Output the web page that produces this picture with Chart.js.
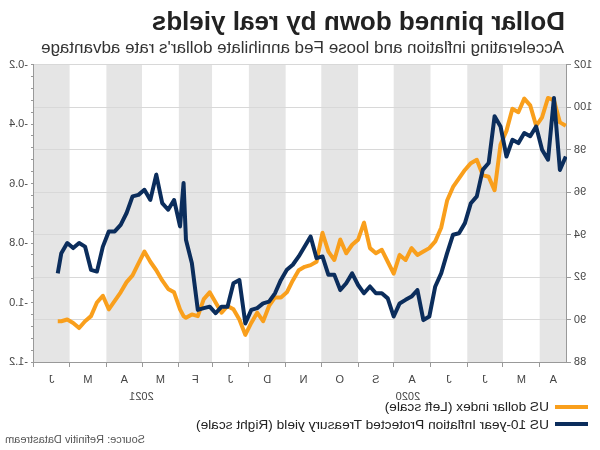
<!DOCTYPE html>
<html>
<head>
<meta charset="utf-8">
<script src="https://cdn.jsdelivr.net/npm/chart.js@4.4.0/dist/chart.umd.min.js"></script>
<style>
  html, body { margin: 0; padding: 0; background: #fff; }
  /* the reference is a mirror image, so the whole page is flipped */
  #page { position: relative; width: 600px; height: 450px; overflow: hidden; transform: scaleX(-1);
          font-family: 'Liberation Sans', Arial, sans-serif; }
  .title { position: absolute; left: 35px; top: 6px; font-size: 26px; font-weight: bold; color: #222; white-space: nowrap; }
  .subtitle { position: absolute; left: 36px; top: 38px; font-size: 17px; color: #333; white-space: nowrap; }
  .chart-box { position: absolute; left: 0; top: 55px; width: 600px; height: 350px; }
  .legend { position: absolute; left: 12px; top: 398px; font-size: 13.7px; color: #222; line-height: 17.5px; }
  .row { display: flex; align-items: center; white-space: nowrap; }
  .swatch { display: inline-block; width: 33px; height: 4px; margin-right: 6px; }
  .source { position: absolute; right: 5px; top: 433px; font-size: 11px; color: #555; }
</style>
</head>
<body>
<div id="page">
  <div class="title">Dollar pinned down by real yields</div>
  <div class="subtitle">Accelerating inflation and loose Fed annihilate dollar's rate advantage</div>
  <div class="chart-box"><canvas id="chart" width="600" height="350"></canvas></div>
  <div class="legend">
    <div class="row"><span class="swatch" style="background:#f99f1c"></span>US dollar index (Left scale)</div>
    <div class="row"><span class="swatch" style="background:#0b2d5c"></span>US 10-year Inflation Protected Treasury yield (Right scale)</div>
  </div>
  <div class="source">Source: Refinitiv Datastream</div>
</div>
<script>
const dates = [
  '2020-04-09','2020-04-14','2020-04-19','2020-04-24','2020-04-29','2020-05-04','2020-05-09','2020-05-14',
  '2020-05-19','2020-05-24','2020-05-29','2020-06-03','2020-06-08','2020-06-13','2020-06-18','2020-06-23',
  '2020-06-28','2020-07-03','2020-07-08','2020-07-13','2020-07-18','2020-07-23','2020-07-28','2020-08-02',
  '2020-08-07','2020-08-12','2020-08-17','2020-08-22','2020-08-27','2020-09-01','2020-09-06','2020-09-11',
  '2020-09-16','2020-09-21','2020-09-26','2020-10-01','2020-10-06','2020-10-11','2020-10-16','2020-10-21',
  '2020-10-26','2020-10-31','2020-11-05','2020-11-10','2020-11-15','2020-11-20','2020-11-25','2020-11-30',
  '2020-12-05','2020-12-10','2020-12-15','2020-12-20','2020-12-25','2020-12-30','2021-01-04','2021-01-09',
  '2021-01-14','2021-01-19','2021-01-24','2021-01-29','2021-02-03','2021-02-08','2021-02-13','2021-02-18',
  '2021-02-23','2021-02-25','2021-02-28','2021-03-05','2021-03-10','2021-03-15','2021-03-20','2021-03-25',
  '2021-03-30','2021-04-04','2021-04-09','2021-04-14','2021-04-19','2021-04-24','2021-04-29','2021-05-04',
  '2021-05-09','2021-05-14','2021-05-19','2021-05-24','2021-05-29','2021-06-03','2021-06-08','2021-06-11'
];

// US dollar index (left scale)
const dollarIndex = [
  99.12, 99.28, 100.32, 100.43, 99.52, 99.12, 100.08, 100.40,
  99.76, 99.92, 98.88, 98.24, 96.08, 96.72, 96.80, 97.52,
  97.36, 97.04, 96.64, 96.24, 95.60, 94.32, 93.68, 93.36,
  93.20, 93.04, 93.36, 92.80, 93.04, 92.16, 92.72, 93.28,
  93.12, 93.36, 94.56, 93.76, 93.52, 93.12, 93.76, 92.80,
  93.20, 94.08, 92.72, 92.56, 92.48, 92.32, 91.84, 91.28,
  91.04, 91.04, 90.64, 89.92, 90.32, 89.84, 89.28, 90.00,
  90.48, 90.64, 90.32, 90.80, 91.28, 90.96, 90.16, 90.24,
  90.08, 90.16, 90.48, 91.28, 91.44, 91.84, 92.32, 92.72,
  93.20, 92.64, 92.08, 91.76, 91.28, 90.88, 90.48, 91.12,
  90.80, 90.16, 89.92, 89.60, 89.84, 90.00, 89.92, 89.92
];

// US 10-year TIPS yield (right scale)
const realYield = [
  -0.509, -0.554, -0.312, -0.520, -0.486, -0.408, -0.441, -0.430,
  -0.464, -0.453, -0.509, -0.408, -0.374, -0.531, -0.554, -0.643,
  -0.666, -0.733, -0.767, -0.772, -0.834, -0.902, -0.946, -1.047,
  -1.059, -0.958, -0.980, -0.991, -1.003, -1.047, -0.986, -0.969,
  -0.969, -0.946, -0.969, -0.941, -0.902, -0.935, -0.958, -0.907,
  -0.907, -0.845, -0.851, -0.778, -0.812, -0.845, -0.873, -0.890,
  -0.924, -0.969, -0.997, -1.003, -1.019, -1.025, -1.070, -0.924,
  -0.935, -1.014, -1.014, -1.036, -1.014, -1.019, -1.025, -0.868,
  -0.789, -0.598, -0.744, -0.655, -0.688, -0.666, -0.570, -0.655,
  -0.621, -0.638, -0.643, -0.699, -0.739, -0.761, -0.761, -0.812,
  -0.896, -0.890, -0.812, -0.800, -0.817, -0.800, -0.834, -0.902
];

const monthLabels = ['A','M','J','J','A','S','O','N','D','J','F','M','A','M','J'];
const monthEdges = ['2020-04-08','2020-05-01','2020-06-01','2020-07-01','2020-08-01','2020-09-01','2020-10-01',
  '2020-11-01','2020-12-01','2021-01-01','2021-02-01','2021-03-01','2021-04-01','2021-05-01','2021-06-01','2021-07-01'];
const yearLabels = ['2020','2021'];
const yearEdges = ['2020-04-08','2021-01-01','2021-07-01'];

const START = Date.parse('2020-04-08');
const dayOf = s => (Date.parse(s) - START) / 86400000;
const END = dayOf('2021-07-01');

const AXIS = '#999';
const FONT = { family: "'Liberation Sans', Arial, sans-serif", size: 11 };

const monthBands = {
  id: 'monthBands',
  beforeDraw(chart) {
    const { ctx, chartArea: a } = chart;
    const x = chart.scales.x;
    ctx.save();
    ctx.fillStyle = '#e5e5e5';
    for (let i = 0; i < monthLabels.length; i += 2) {
      const x0 = x.getPixelForValue(dayOf(monthEdges[i]));
      const x1 = x.getPixelForValue(dayOf(monthEdges[i + 1]));
      ctx.fillRect(x0, a.top, x1 - x0, a.bottom - a.top);
    }
    ctx.restore();
  }
};

new Chart(document.getElementById('chart'), {
  type: 'line',
  data: {
    datasets: [
      {
        label: 'US 10-year Inflation Protected Treasury yield (Right scale)',
        data: dates.map((d, i) => ({ x: dayOf(d), y: realYield[i] })),
        yAxisID: 'y2',
        borderColor: '#0b2d5c',
        borderWidth: 4,
        pointRadius: 0,
        borderJoinStyle: 'round',
        order: 0
      },
      {
        label: 'US dollar index (Left scale)',
        data: dates.map((d, i) => ({ x: dayOf(d), y: dollarIndex[i] })),
        yAxisID: 'y',
        borderColor: '#f99f1c',
        borderWidth: 4,
        pointRadius: 0,
        borderJoinStyle: 'round',
        order: 1
      }
    ]
  },
  options: {
    responsive: false,
    animation: false,
    layout: { padding: { top: 4, bottom: 0, left: 0, right: 0 } },
    plugins: { legend: { display: false }, tooltip: { enabled: false } },
    scales: {
      x: {
        type: 'linear', position: 'bottom', weight: 0, min: 0, max: END,
        afterBuildTicks(s) {
          const t = [];
          for (let i = 0; i < monthLabels.length; i++) {
            const a = dayOf(monthEdges[i]), b = dayOf(monthEdges[i + 1]);
            t.push({ value: (a + b) / 2, name: monthLabels[i] });
            t.push({ value: b, name: '' });
          }
          s.ticks = t;
        },
        afterFit(s) { s.height = 25; },
        ticks: { autoSkip: false, maxRotation: 0, padding: 6, color: '#444', font: FONT,
                 callback: (v, i, t) => t[i].name },
        grid: { drawOnChartArea: false, tickLength: 5,
                color: c => (c.tick && c.tick.name) ? 'rgba(0,0,0,0)' : AXIS },
        border: { color: AXIS }
      },
      xYear: {
        type: 'linear', position: 'bottom', weight: 1, min: 0, max: END,
        afterBuildTicks(s) {
          s.ticks = yearLabels.map((y, i) => ({ value: (dayOf(yearEdges[i]) + dayOf(yearEdges[i + 1])) / 2, name: y }));
        },
        afterFit(s) { s.height = 18; },
        ticks: { autoSkip: false, maxRotation: 0, padding: 3, color: '#444', font: FONT,
                 callback: (v, i, t) => t[i].name },
        grid: { display: false, drawTicks: false },
        border: { display: false }
      },
      y: {
        position: 'left', min: 88, max: 102,
        afterFit(s) { s.width = 33; },
        ticks: { stepSize: 2, padding: 3, color: '#444', font: FONT },
        grid: { color: '#d8d8d8', tickColor: AXIS, tickLength: 4 },
        border: { color: AXIS }
      },
      y2: {
        position: 'right', min: -1.2, max: -0.2,
        afterBuildTicks(s) {
          const t = [];
          for (let k = 0; k <= 25; k++) t.push({ value: -1.2 + k * 0.04 });
          s.ticks = t;
        },
        afterFit(s) { s.width = 34; },
        ticks: { autoSkip: false, padding: 3, color: '#444', font: FONT,
                 callback: v => Math.abs(v * 5 - Math.round(v * 5)) < 1e-6 ? v.toFixed(1) : '' },
        grid: { drawOnChartArea: false, color: AXIS, tickLength: 3 },
        border: { color: AXIS }
      }
    }
  },
  plugins: [monthBands]
});
</script>
</body>
</html>
